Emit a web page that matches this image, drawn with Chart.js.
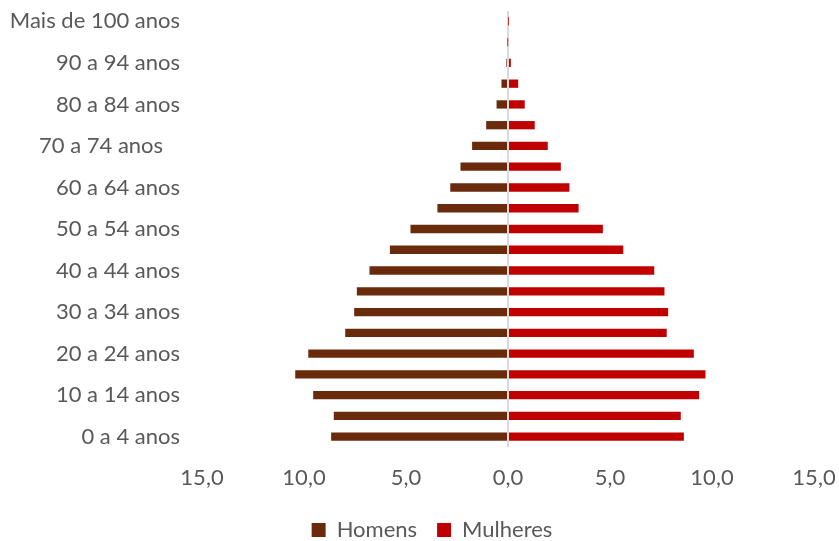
<!DOCTYPE html>
<html>
<head>
<meta charset="utf-8">
<script src="https://cdn.jsdelivr.net/npm/chart.js@4/dist/chart.umd.min.js"></script>
<style>
  html, body { margin: 0; padding: 0; background: #fff; }
  #wrap { width: 839px; height: 541px; }
</style>
</head>
<body>
<div id="wrap"><canvas id="pyramid"></canvas></div>
<script>
// Faixas etárias (de baixo para cima)
const faixas = ['0 a 4 anos', '5 a 9 anos', '10 a 14 anos', '15 a 19 anos', '20 a 24 anos',
    '25 a 29 anos', '30 a 34 anos', '35 a 39 anos', '40 a 44 anos', '45 a 49 anos',
    '50 a 54 anos', '55 a 59 anos', '60 a 64 anos', '65 a 69 anos', '70 a 74 anos   ',
    '75 a 79 anos', '80 a 84 anos', '85 a 89 anos', '90 a 94 anos', '95 a 99 anos',
    'Mais de 100 anos'];

// % da população
const homens = [8.67, 8.54, 9.55, 10.43, 9.79, 7.98, 7.54, 7.41, 6.79, 5.79,
    4.78, 3.46, 2.83, 2.33, 1.76, 1.07, 0.56, 0.32, 0.08, 0.02, 0.0];
const mulheres = [8.62, 8.47, 9.37, 9.68, 9.11, 7.78, 7.85, 7.67, 7.17, 5.65,
    4.65, 3.46, 3.01, 2.59, 1.95, 1.31, 0.82, 0.50, 0.14, 0.04, 0.01];

// x axis ticks
const xTicks = [-15, -10, -5, 0, 5, 10, 15];

const textColor = '#595959';
const fontFamily = 'Lato, "Open Sans", sans-serif';

// nudge the legend a bit to the right, like the original
const legendShift = {
    id: 'legendShift',
    afterLayout(chart) {
        chart.legend.left += 25;
        chart.legend.right += 25;
    }
};

const ctx = document.getElementById('pyramid').getContext('2d');

new Chart(ctx, {
    type: 'bar',
    data: {
        labels: faixas,
        datasets: [
            {
                label: 'Homens',
                data: homens.map(v => -v),
                backgroundColor: '#6A2B0D',
                barPercentage: 0.4,
                categoryPercentage: 1
            },
            {
                label: 'Mulheres',
                data: mulheres,
                backgroundColor: '#C00000',
                barPercentage: 0.4,
                categoryPercentage: 1
            }
        ]
    },
    options: {
        indexAxis: 'y',
        responsive: true,
        maintainAspectRatio: false,
        animation: false,
        layout: {
            padding: { top: 11, right: 25, bottom: -10, left: 0 }
        },
        scales: {
            x: {
                stacked: true,
                min: -15,
                max: 15,
                z: 1,
                afterBuildTicks: axis => {
                    axis.ticks = xTicks.map(v => ({ value: v }));
                },
                afterFit: axis => {
                    axis.height = 52;
                    axis.paddingLeft = 0;
                    axis.paddingRight = 0;
                },
                grid: {
                    drawTicks: false,
                    color: c => c.tick && c.tick.value === 0 ? '#d9d9d9' : 'rgba(0,0,0,0)',
                    lineWidth: 2
                },
                border: { display: false },
                ticks: {
                    padding: 18,
                    color: textColor,
                    font: { family: fontFamily, size: 22 },
                    callback: v => Math.abs(v).toFixed(1).replace('.', ',')
                }
            },
            y: {
                stacked: true,
                reverse: true,
                afterFit: axis => {
                    axis.width = 202;
                    axis.paddingTop = 0;
                    axis.paddingBottom = 0;
                },
                grid: { display: false, drawTicks: false },
                border: { display: false },
                ticks: {
                    autoSkip: false,
                    padding: 22,
                    color: textColor,
                    font: { family: fontFamily, size: 22 },
                    callback: function (v, i) {
                        return i % 2 === 0 ? this.getLabelForValue(v) : '';
                    }
                }
            }
        },
        plugins: {
            legend: {
                position: 'bottom',
                labels: {
                    color: textColor,
                    font: { family: fontFamily, size: 22, lineHeight: 1 },
                    boxWidth: 14,
                    boxHeight: 14,
                    padding: 20
                }
            },
            tooltip: { enabled: false }
        }
    },
    plugins: [legendShift]
});
</script>
</body>
</html>
